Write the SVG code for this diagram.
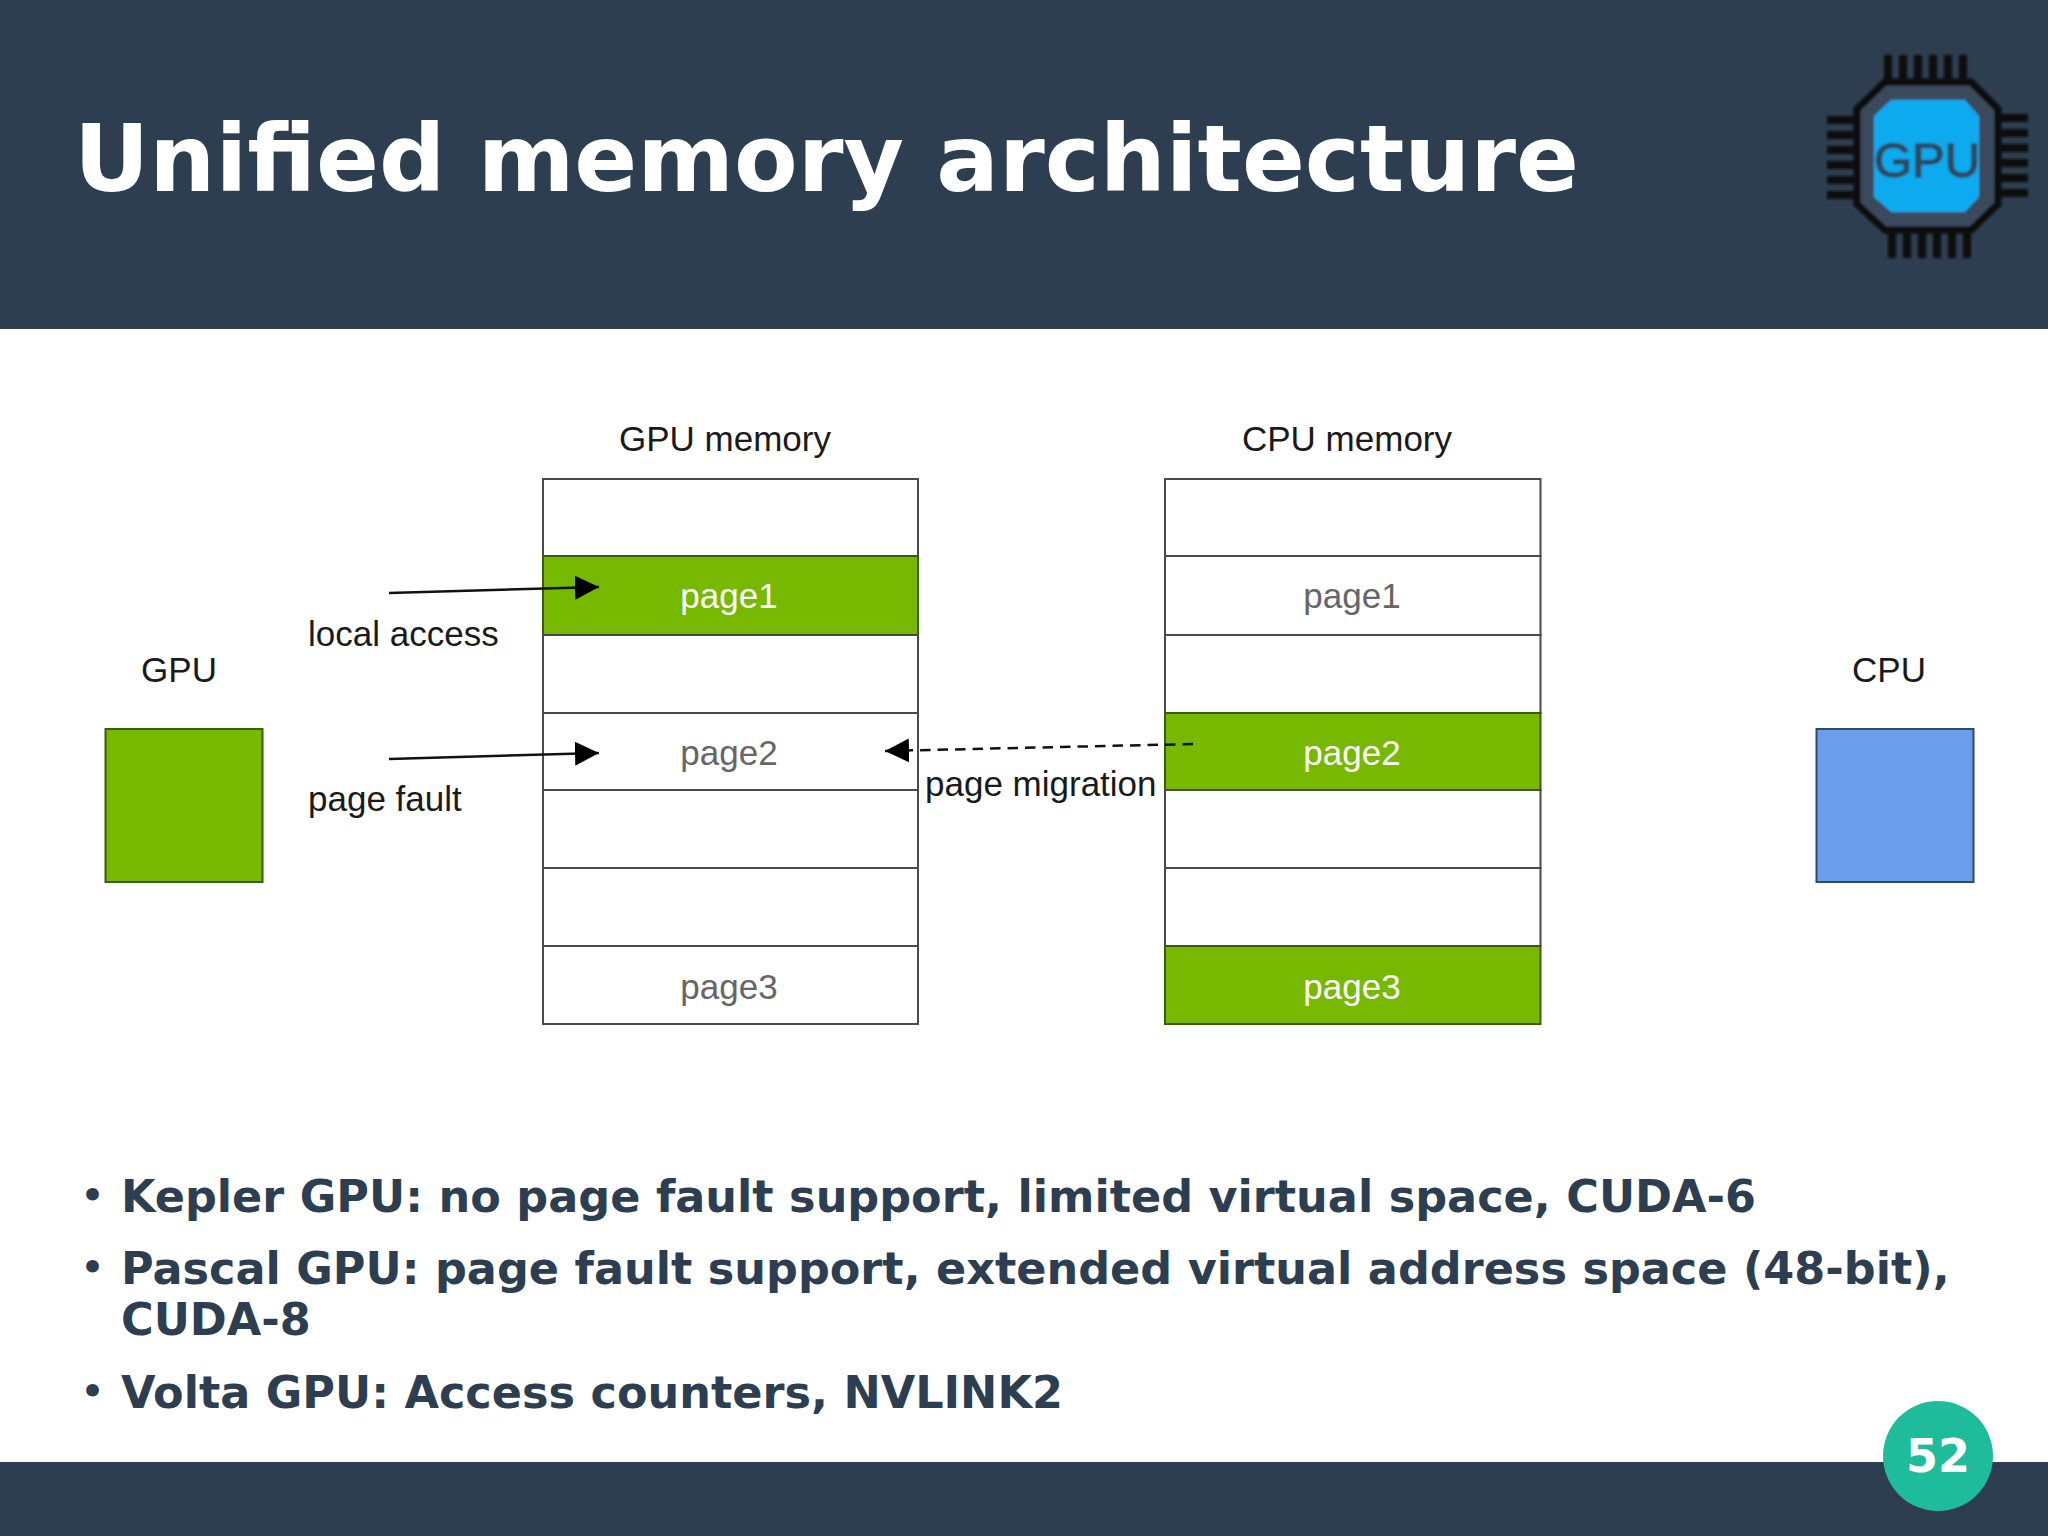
<svg xmlns="http://www.w3.org/2000/svg" width="2048" height="1536" viewBox="0 0 2048 1536">
<style>
.t{font-family:"DejaVu Sans",sans-serif;font-weight:700}
.b{font-size:44.56px;fill:#2c3e50}
.l{font-family:"Liberation Sans",Arial,sans-serif;font-size:35px;fill:#1a1a1a}
.c{text-anchor:middle}
.cell{fill:#fff;stroke:#4a4a4a;stroke-width:2}
.on{fill:#76b900;stroke:#3d5a14;stroke-width:2}
.pw{fill:#fff}
.pg{fill:#666}
.pin{stroke:#0a0a0f;stroke-width:8;stroke-linecap:butt}
.dot{font-size:36px;fill:#2c3e50}
</style>
<defs>
<marker id="ah" markerUnits="userSpaceOnUse" markerWidth="26" markerHeight="26" refX="24" refY="12" orient="auto"><path d="M0 0L24 12L0 24Z" fill="#000"/></marker>
<filter id="soft" x="-5%" y="-5%" width="110%" height="110%"><feGaussianBlur stdDeviation="0.9"/></filter>
</defs>
<rect width="2048" height="1536" fill="#fff"/>
<rect id="header" width="2048" height="329" fill="#2d3e50"/>
<rect id="footer" y="1462" width="2048" height="74" fill="#2d3e50"/>
<text class="t" x="74" y="191" font-size="92.8" fill="#fff">Unified memory architecture</text>
<g id="gpu-icon" filter="url(#soft)">
<path d="M1885 82H1971L1998 109V204L1971 230H1885L1857 204V109Z" fill="#3a4a5c" stroke="#0a0a0f" stroke-width="7"/>
<path d="M1891 100H1965L1979 116V197L1965 212H1891L1874 197V116Z" fill="#08aaef"/>
<g class="pin">
<path d="M1888 55V82M1903 55V82M1918 55V82M1933 55V82M1948 55V82M1963 55V82"/>
<path d="M1892 231V258M1907 231V258M1922 231V258M1937 231V258M1952 231V258M1967 231V258"/>
<path d="M1827 120H1857M1827 135H1857M1827 150H1857M1827 165H1857M1827 180H1857M1827 195H1857"/>
<path d="M1998 118H2028M1998 133H2028M1998 148H2028M1998 163H2028M1998 178H2028M1998 193H2028"/>
</g>
<text x="1927" y="177" text-anchor="middle" font-family="Liberation Sans,Arial,sans-serif" font-size="49" fill="#2f4a60" stroke="#2f4a60" stroke-width="1.5">GPU</text>
</g>
<g id="gpu-box"><rect x="105.500" y="729" width="157" height="153" fill="#76b900" stroke="#3d5a14" stroke-width="2"/><text class="l c" x="179" y="682">GPU</text></g>
<g id="cpu-box"><rect x="1816.500" y="729" width="157" height="153" fill="#6d9eeb" stroke="#2d4a66" stroke-width="2"/><text class="l c" x="1889" y="682">CPU</text></g>
<g id="gpu-memory">
<text class="l c" x="725" y="451">GPU memory</text>
<rect class="cell" x="543" y="479" width="375" height="77"/>
<rect class="on" x="543" y="556" width="375" height="79"/>
<rect class="cell" x="543" y="635" width="375" height="78"/>
<rect class="cell" x="543" y="713" width="375" height="77"/>
<rect class="cell" x="543" y="790" width="375" height="78"/>
<rect class="cell" x="543" y="868" width="375" height="78"/>
<rect class="cell" x="543" y="946" width="375" height="78"/>
<text class="l c pw" x="729" y="608">page1</text>
<text class="l c pg" x="729" y="765">page2</text>
<text class="l c pg" x="729" y="999">page3</text>
</g>
<g id="cpu-memory">
<text class="l c" x="1347" y="451">CPU memory</text>
<rect class="cell" x="1165" y="479" width="375.500" height="77"/>
<rect class="cell" x="1165" y="556" width="375.500" height="79"/>
<rect class="cell" x="1165" y="635" width="375.500" height="78"/>
<rect class="on" x="1165" y="713" width="375.500" height="77"/>
<rect class="cell" x="1165" y="790" width="375.500" height="78"/>
<rect class="cell" x="1165" y="868" width="375.500" height="78"/>
<rect class="on" x="1165" y="946" width="375.500" height="78"/>
<text class="l c pg" x="1352" y="608">page1</text>
<text class="l c pw" x="1352" y="765">page2</text>
<text class="l c pw" x="1352" y="999">page3</text>
</g>
<g id="connectors" fill="none" stroke="#111" stroke-width="2.5">
<path d="M389 593L599 587" marker-end="url(#ah)"/>
<path d="M389 759L599 753" marker-end="url(#ah)"/>
<path d="M1193 744L885 751" stroke-dasharray="10.5 7" marker-end="url(#ah)"/>
</g>
<text class="l" x="308" y="646">local access</text>
<text class="l" x="308" y="811">page fault</text>
<text class="l" x="925" y="796">page migration</text>
<g id="bullets">
<text class="t dot" x="81" y="1208">•</text>
<text class="t b" x="121" y="1212">Kepler GPU: no page fault support, limited virtual space, CUDA-6</text>
<text class="t dot" x="81" y="1280">•</text>
<text class="t b" x="121" y="1284">Pascal GPU: page fault support, extended virtual address space (48-bit),</text>
<text class="t b" x="121" y="1335">CUDA-8</text>
<text class="t dot" x="81" y="1404">•</text>
<text class="t b" x="121" y="1408">Volta GPU: Access counters, NVLINK2</text>
</g>
<g id="page-number"><circle cx="1938" cy="1456" r="55" fill="#1fbc9c"/><text class="t c" x="1938" y="1472" font-size="46" fill="#fff">52</text></g>
</svg>
